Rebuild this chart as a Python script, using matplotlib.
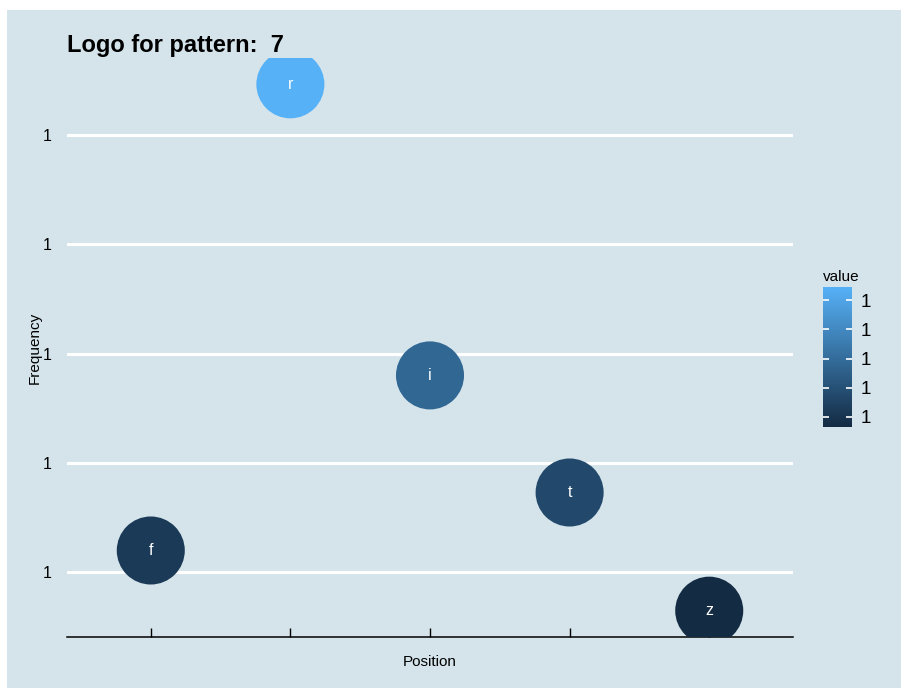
import matplotlib
matplotlib.use("Agg")
import matplotlib.pyplot as plt
from matplotlib.colors import LinearSegmentedColormap, Normalize
from matplotlib.patches import Rectangle
from matplotlib.cm import ScalarMappable

# data: near-identical frequencies, which is why every label reads "1"
letters = ["f", "r", "i", "t", "z"]
positions = [1, 2, 3, 4, 5]
frequency = [1.0000020, 1.0000446, 1.0000180, 1.0000073, 0.9999965]
y_ticks = [1.00000, 1.00001, 1.00002, 1.00003, 1.00004]
pattern_id = 7

bg = "#d5e4eb"
cmap = LinearSegmentedColormap.from_list("gg", ["#132B43", "#56B1F7"])
norm = Normalize(vmin=min(frequency), vmax=max(frequency))

plt.rcParams["font.family"] = ["Liberation Sans", "DejaVu Sans"]

fig = plt.figure(figsize=(9.03, 6.88), dpi=100)
fig.patch.set_facecolor("white")
fig.patches.append(Rectangle((7 / 903, 0), 894 / 903, 678 / 688, transform=fig.transFigure,
                             facecolor=bg, edgecolor="none", zorder=-10))

ax = fig.add_axes([67 / 903, 51 / 688, 726 / 903, 579 / 688])
ax.set_facecolor(bg)
ax.patch.set_alpha(0)

ax.scatter(positions, frequency, s=2400, c=frequency, cmap=cmap, norm=norm,
           edgecolors="none", zorder=3, clip_on=True)
for x, y, lab in zip(positions, frequency, letters):
    ax.text(x, y, lab, color="white", fontsize=11.5, ha="center", va="center", zorder=4)

span = max(frequency) - min(frequency)
ax.set_xlim(0.4, 5.6)
ax.set_ylim(min(frequency) - 0.05 * span, max(frequency) + 0.05 * span)
ax.set_xticks(positions)
ax.set_xticklabels([])
ax.set_yticks(y_ticks)
ax.set_yticklabels(["%.0f" % v for v in y_ticks])
ax.tick_params(axis="y", length=0, pad=11, labelsize=11.5)
ax.tick_params(axis="x", direction="in", length=6.5, width=1, color="black")
ax.grid(axis="y", color="white", linewidth=2.2, zorder=0)
ax.set_axisbelow(True)
for side in ["top", "right", "left"]:
    ax.spines[side].set_visible(False)
ax.spines["bottom"].set_linewidth(1.1)

fig.text(67 / 903, 1 - 52 / 688, "Logo for pattern:  %d" % pattern_id,
         fontsize=17, fontweight="bold", ha="left", va="baseline")
fig.text(35 / 903, 1 - 348 / 688, "Frequency", rotation=90, fontsize=11,
         ha="center", va="center")
fig.text(430 / 903, 1 - 662 / 688, "Position", fontsize=11, ha="center", va="center")

# colour bar legend
cax = fig.add_axes([823 / 903, 261 / 688, 29 / 903, 140 / 688])
sm = ScalarMappable(norm=norm, cmap=cmap)
cb = fig.colorbar(sm, cax=cax, ticks=y_ticks)
cb.outline.set_visible(False)
cb.set_ticklabels(["%.0f" % v for v in y_ticks])
cax.tick_params(length=0, labelsize=13.5, pad=6)
cax.hlines(y_ticks, 0, 0.2, colors="white", linewidth=1.2)
cax.hlines(y_ticks, 0.8, 1, colors="white", linewidth=1.2)
fig.text(823 / 903, 1 - 281 / 688, "value", fontsize=11, ha="left", va="baseline")

fig.savefig("out.png", dpi=100, facecolor=fig.get_facecolor())
